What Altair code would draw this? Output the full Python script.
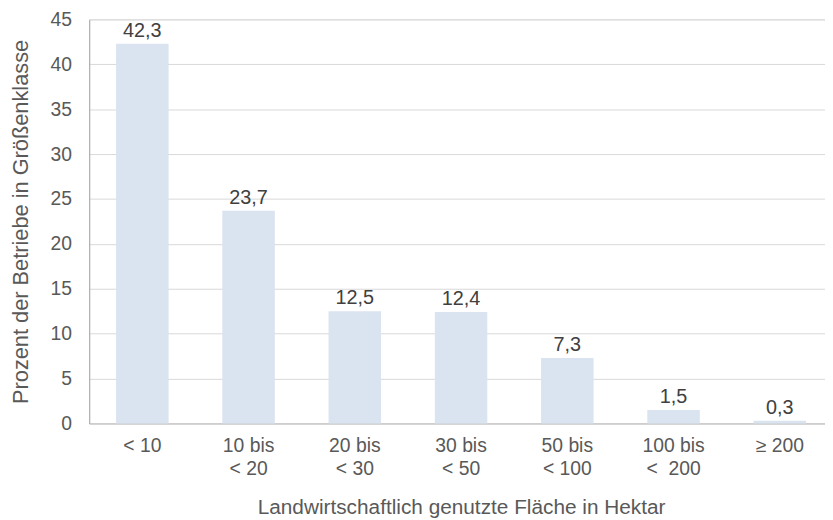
import altair as alt
import pandas as pd

categories = ["< 10", "10 bis\n< 20", "20 bis\n< 30", "30 bis\n< 50", "50 bis\n< 100", "100 bis\n<\u00a0\u00a0200", "≥ 200"]
values = [42.3, 23.7, 12.5, 12.4, 7.3, 1.5, 0.3]

df = pd.DataFrame({"cat": categories, "val": values})
df["lbl"] = [f"{v:.1f}".replace(".", ",") for v in values]

FONT = "Liberation Sans, Arial, sans-serif"
GREY = "#595959"

base = alt.Chart(df).encode(
    x=alt.X("cat:N", sort=categories, title="Landwirtschaftlich genutzte Fläche in Hektar",
            scale=alt.Scale(range=[0, 751], paddingInner=0.506, paddingOuter=0.253),
            axis=alt.Axis(labelAngle=0, labelExpr="split(datum.label, '\\n')", ticks=False,
                          labelPadding=13, labelLineHeight=24, labelFontSize=19.5, labelColor=GREY,
                          titleFontSize=21, titleColor=GREY, titleFontWeight="normal",
                          titlePadding=18, domainColor="#bfbfbf", grid=False, labelFont=FONT, titleFont=FONT)),
)

bars = base.mark_bar(color="#dae3f0").encode(
    y=alt.Y("val:Q", title="Prozent der Betriebe in Größenklasse",
            scale=alt.Scale(domain=[0, 45], nice=False),
            axis=alt.Axis(values=list(range(0, 50, 5)), ticks=False, labelPadding=18,
                          labelFontSize=19.5, labelColor=GREY, titleFontSize=22,
                          titleColor=GREY, titleFontWeight="normal", titlePadding=18,
                          domainColor="#a6a6a6", gridColor="#d9d9d9", labelFont=FONT, titleFont=FONT))
)

text = base.mark_text(baseline="bottom", dy=-3, fontSize=20, color="#404040", font=FONT).encode(
    y="val:Q", text="lbl:N"
)

chart = (bars + text).properties(
    width=743, height=408,
    autosize=alt.AutoSizeParams(type="none"),
    padding={"left": 82, "top": 9, "right": 0, "bottom": 94},
).configure_view(stroke=None).configure(font=FONT)

chart.save("out.html", embed_options={"renderer": "svg", "actions": False})
